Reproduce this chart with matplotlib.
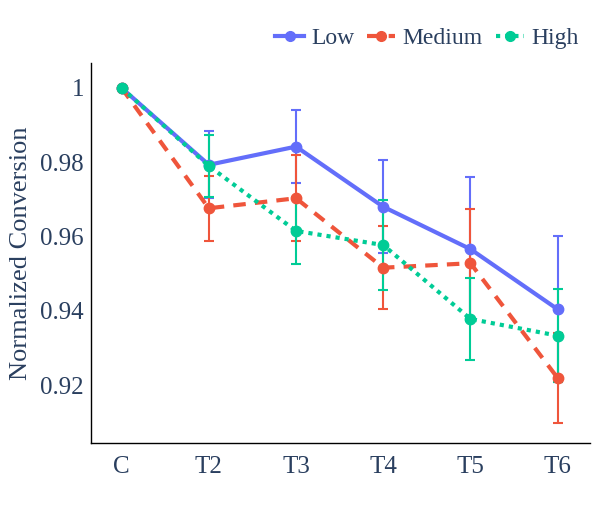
import numpy as np
import matplotlib.pyplot as plt
from matplotlib.lines import Line2D

# categorias e séries
categorias = ["C", "T2", "T3", "T4", "T5", "T6"]

low = [1.0, 0.9793, 0.9842, 0.9680, 0.9566, 0.9404]
low_err = [0.0, 0.0090, 0.0098, 0.0125, 0.0193, 0.0197]

medium = [1.0, 0.9676, 0.9703, 0.9516, 0.9528, 0.9219]
medium_err = [0.0, 0.0088, 0.0116, 0.0111, 0.0145, 0.0122]

high = [1.0, 0.9790, 0.9615, 0.9577, 0.9378, 0.9333]
high_err = [0.0, 0.0083, 0.0090, 0.0121, 0.0111, 0.0126]

cor_texto = "#2a3f5f"
plt.rcParams["font.family"] = ["Liberation Serif", "DejaVu Serif"]

fig = plt.figure(figsize=(6, 5.2), dpi=100, facecolor="white")
ax = fig.add_axes([0.1517, 0.148, 0.8316, 0.7308])

x = np.arange(len(categorias))

series = [
    ("Low", low, low_err, "#636efa", "-"),
    ("Medium", medium, medium_err, "#ef553b", (0, (3, 2.2))),
    ("High", high, high_err, "#00cc96", (0, (1, 1.2))),
]

handles = []
for nome, valores, erros, cor, estilo in series:
    ax.errorbar(x, valores, yerr=erros, color=cor, ecolor=cor, elinewidth=1.5,
                capsize=3.5, capthick=1.5, linewidth=3, linestyle=estilo,
                marker="o", markersize=7.5, dash_capstyle="butt")
    handles.append(Line2D([], [], color=cor, linewidth=3, linestyle=estilo,
                          marker="o", markersize=7, dash_capstyle="butt", label=nome))

ax.set_xlim(-0.35, 5.37)
ax.set_ylim(0.9044, 1.0067)
ax.set_xticks(x)
ax.set_xticklabels(categorias)
ax.set_yticks([0.92, 0.94, 0.96, 0.98, 1.0])
ax.set_yticklabels(["0.92", "0.94", "0.96", "0.98", "1"])
ax.tick_params(length=0, labelsize=18, colors=cor_texto)
ax.tick_params(axis="y", pad=5)
ax.tick_params(axis="x", pad=9)
ax.set_ylabel("Normalized Conversion", fontsize=19, color=cor_texto, labelpad=6)

for lado in ["top", "right"]:
    ax.spines[lado].set_visible(False)
for lado in ["left", "bottom"]:
    ax.spines[lado].set_color("black")
    ax.spines[lado].set_linewidth(1)

ax.legend(handles=handles, loc="lower right", bbox_to_anchor=(1.005, 1.0), ncol=3,
          frameon=False, fontsize=17, labelcolor=cor_texto, handlelength=1.2,
          handletextpad=0.3, columnspacing=0.55, borderaxespad=0.2)

fig.savefig("out.png", dpi=100, facecolor="white")
